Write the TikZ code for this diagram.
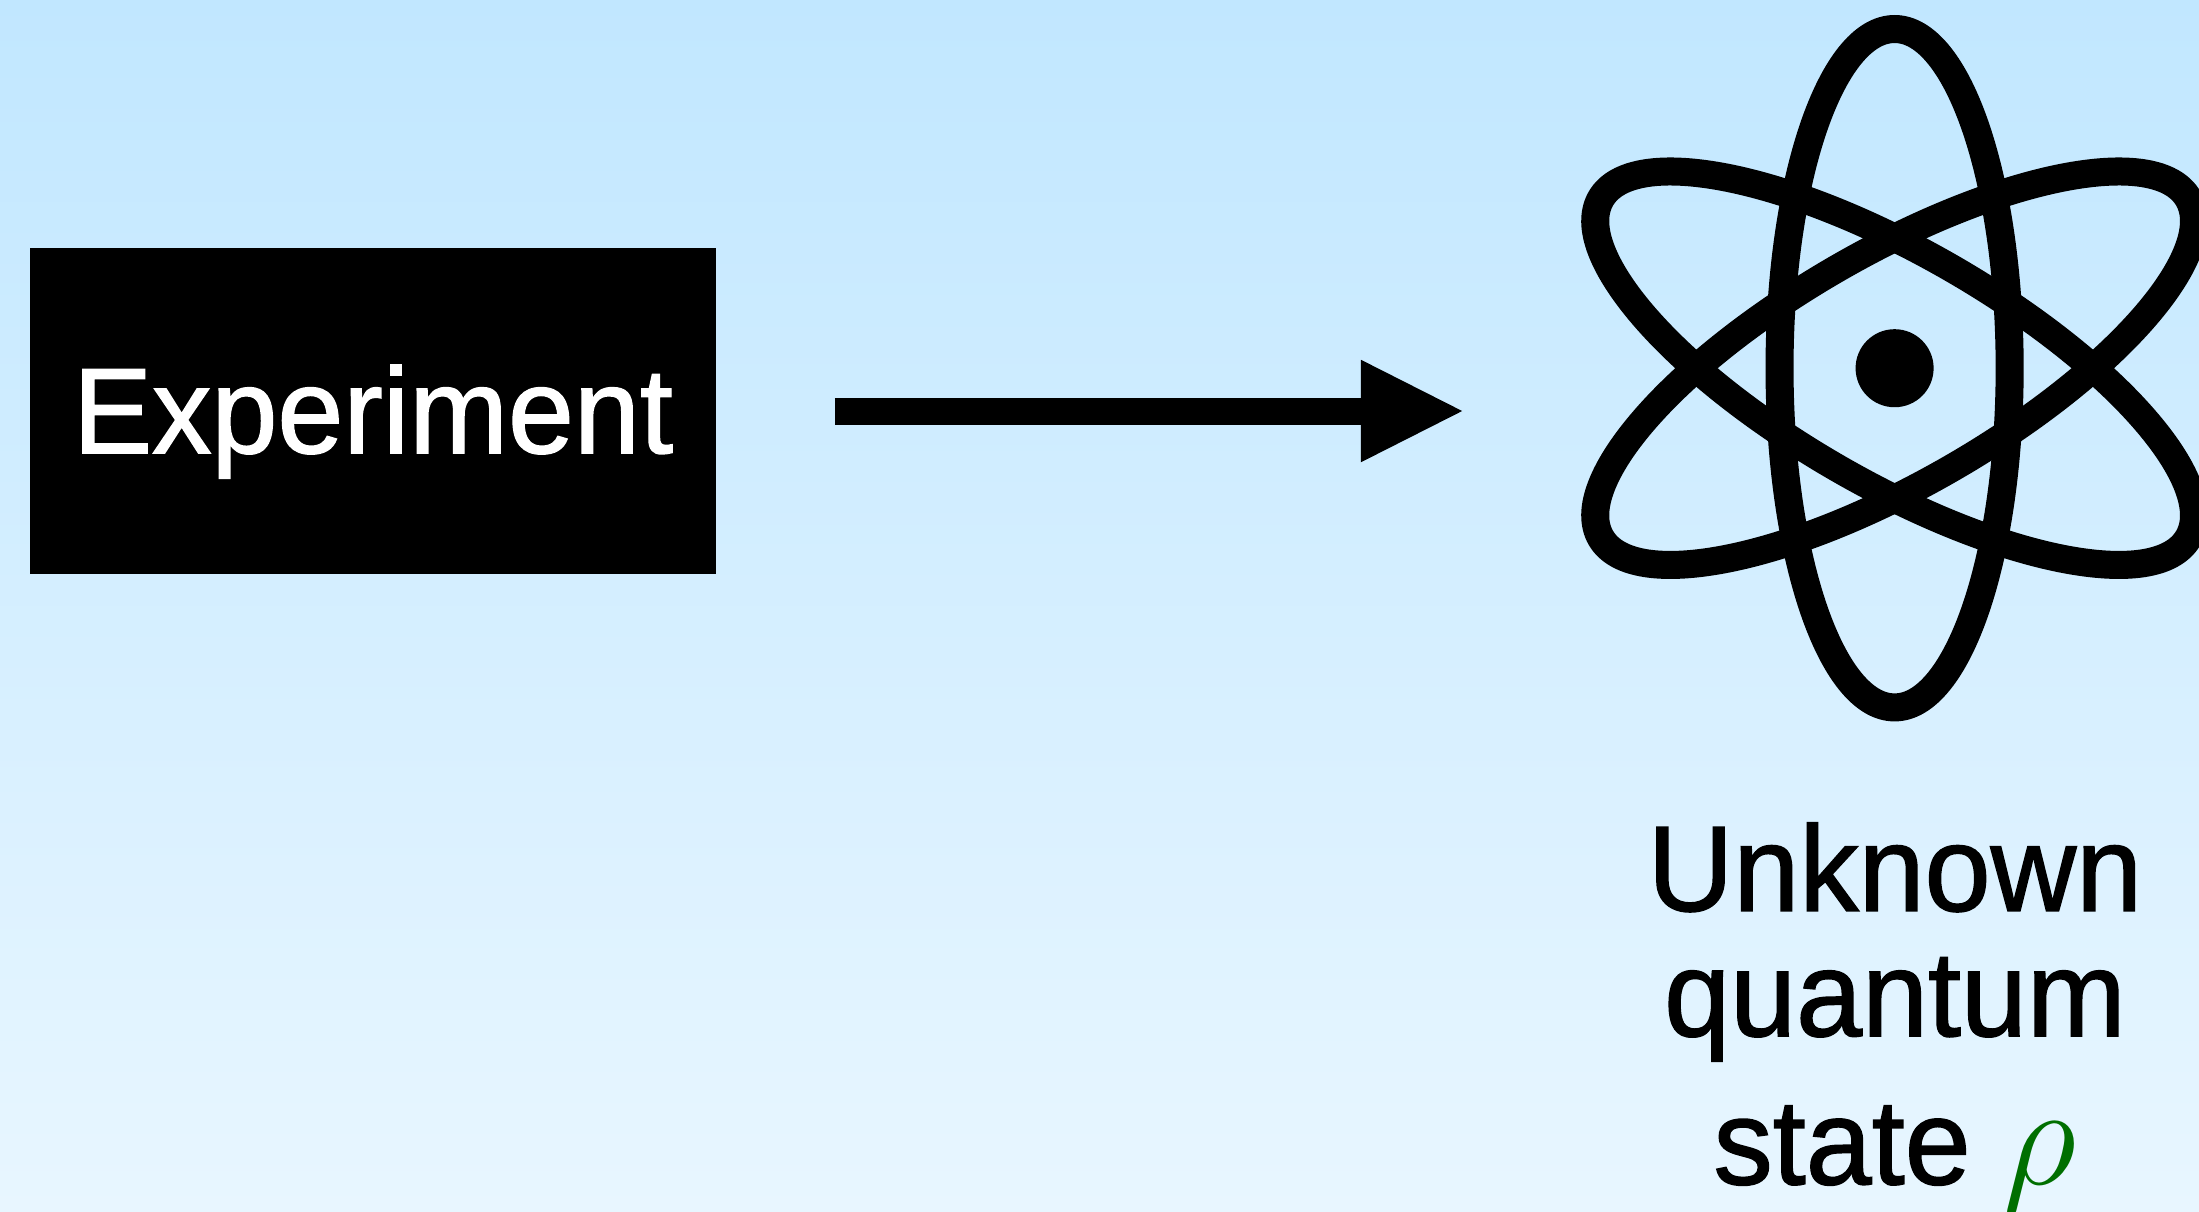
\documentclass[tikz,border=0pt]{standalone}
\usepackage{fontspec}
\usepackage{xcolor}
\usetikzlibrary{arrows.meta}
\setmainfont{Liberation Sans}[FakeStretch=0.975,BoldFont={Liberation Sans},
  BoldFeatures={FakeBold=1.2,FakeStretch=0.975}]
\definecolor{skytop}{HTML}{C1E7FF}
\definecolor{skybot}{HTML}{E8F6FF}
\definecolor{rhogreen}{HTML}{006F00}

\begin{document}
\begin{tikzpicture}[
  x=0.01cm, y=-0.01cm,
  font=\fontsize{34.6}{35.6}\selectfont\bfseries,
  expbox/.style ={fill=black, text=white, minimum width=6.86cm, minimum height=3.26cm,
                  inner sep=0pt, text height=0.84cm, text depth=0cm},
  atombox/.style={minimum width=6.27cm, minimum height=7.09cm, inner sep=0pt},
  orbit/.style  ={draw=black, line width=0.28cm},
  nucl/.style   ={circle, fill=black, minimum size=0.78cm, inner sep=0pt},
  lbl/.style    ={align=center, inner sep=0pt, anchor=north},
  ar/.style     ={-{Triangle[length=1.04cm,width=0.94cm]}, line width=0.27cm}
]
% ---------- background ----------
\useasboundingbox (0,0) rectangle (2199,1211);
\path[top color=skytop, bottom color=skybot] (0,0) rectangle (2199,1211);

% ---------- experiment ----------
\node[expbox] (expt) at (373,411) {Experiment};

% ---------- atom ----------
\node[atombox] (atom) at (1894.6,368.2) {};
\foreach \ang in {0,60,-60}
  \draw[orbit, rotate=\ang] (atom.center) ellipse [x radius=1.15cm, y radius=3.39cm];
\node[nucl] (core) at (atom.center) {};

\node[lbl] (state) at (1895,822)
  {Unknown\\quantum\\[0.23cm]state \textcolor{rhogreen}{\scalebox{1.65}{$\rho$}}};

\draw[ar, shorten <=1.18cm, shorten >=1.152cm] (expt.east) -- (expt.east -| atom.west);
\end{tikzpicture}
\end{document}
